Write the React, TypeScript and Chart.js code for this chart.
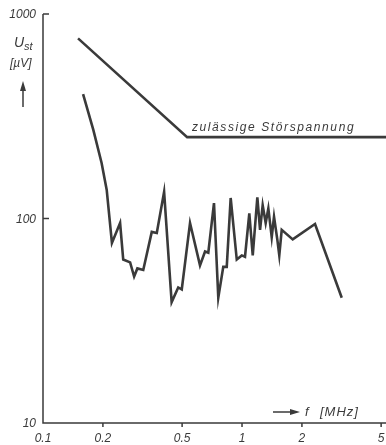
import React, { useEffect, useRef } from "react";
import { Chart, registerables } from "chart.js";

Chart.register(...registerables);

// Permissible interference voltage (zulässige Störspannung)
const permFreq = [0.15, 0.53, 5.3];
const permLimit = [760, 250, 250];

// Measured interference voltage
const measFreq = [
  0.159, 0.179, 0.197, 0.209, 0.222, 0.244, 0.253, 0.274, 0.287, 0.298, 0.319,
  0.352, 0.373, 0.406, 0.443, 0.478, 0.498, 0.548, 0.615, 0.652, 0.677, 0.723,
  0.76, 0.805, 0.838, 0.877, 0.941, 0.997, 1.035, 1.088, 1.132, 1.194, 1.232,
  1.27, 1.315, 1.356, 1.41, 1.448, 1.504, 1.539, 1.583, 1.798, 2.327, 3.17,
];
const measVolt = [
  406, 271, 187, 138, 76, 95, 63, 61, 52, 57, 56, 86, 85, 135, 39, 46, 45, 95,
  59, 69, 68, 119, 41, 58, 58, 126, 63, 66, 65, 106, 66, 127, 88, 116, 95, 112,
  81, 102, 79, 66, 88, 79, 94, 41,
];

const xTicks = [0.1, 0.2, 0.5, 1, 2, 5];
const xTickLabels = ["0.1", "0.2", "0.5", "1", "2", "5"];
const yTicks = [10, 100, 1000];
const yTickLabels = ["10", "100", "1000"];
const limitLabel = "zulässige Störspannung";
const limitLabelFreq = 0.56;

const INK = "#3a3a3a";
const FONT = "'Liberation Sans', 'DejaVu Sans', sans-serif";

const decorPlugin = {
  id: "decor",
  afterDraw(chart: any) {
    const ctx = chart.ctx as CanvasRenderingContext2D;
    const xs = chart.scales.x;
    const ys = chart.scales.y;
    const a = chart.chartArea;
    ctx.save();
    ctx.strokeStyle = INK;
    ctx.fillStyle = INK;
    ctx.lineWidth = 1.5;
    // axes
    ctx.beginPath();
    ctx.moveTo(a.left, a.top);
    ctx.lineTo(a.left, a.bottom);
    ctx.lineTo(a.right, a.bottom);
    ctx.stroke();
    // y ticks
    ctx.font = `italic 12px ${FONT}`;
    ctx.textAlign = "right";
    ctx.textBaseline = "middle";
    yTicks.forEach((v, i) => {
      const y = ys.getPixelForValue(v);
      if (i > 0) {
        ctx.beginPath();
        ctx.moveTo(a.left, y);
        ctx.lineTo(a.left + 6, y);
        ctx.stroke();
      }
      ctx.fillText(yTickLabels[i], a.left - 7, y + 1);
    });
    // x ticks
    ctx.textAlign = "center";
    ctx.textBaseline = "top";
    xTicks.forEach((v, i) => {
      const x = xs.getPixelForValue(v);
      if (i > 0) {
        ctx.beginPath();
        ctx.moveTo(x, a.bottom);
        ctx.lineTo(x, a.bottom + 4);
        ctx.stroke();
      }
      ctx.fillText(xTickLabels[i], x, a.bottom + 10);
    });
    // y title: U_st [µV] ↑
    ctx.textAlign = "left";
    ctx.textBaseline = "alphabetic";
    ctx.font = `italic 14px ${FONT}`;
    ctx.fillText("U", 14, 47);
    ctx.font = `italic 11px ${FONT}`;
    ctx.fillText("st", 24, 50);
    ctx.font = `italic 12px ${FONT}`;
    ctx.fillText("[µV]", 10, 67);
    ctx.lineWidth = 1.5;
    ctx.beginPath();
    ctx.moveTo(23, 107);
    ctx.lineTo(23, 88);
    ctx.stroke();
    ctx.beginPath();
    ctx.moveTo(23, 81);
    ctx.lineTo(20, 91);
    ctx.lineTo(26, 91);
    ctx.closePath();
    ctx.fill();
    // x title: → f [MHz]
    ctx.beginPath();
    ctx.moveTo(273, 412);
    ctx.lineTo(292, 412);
    ctx.stroke();
    ctx.beginPath();
    ctx.moveTo(300, 412);
    ctx.lineTo(290, 409);
    ctx.lineTo(290, 415);
    ctx.closePath();
    ctx.fill();
    ctx.font = `italic 13px ${FONT}`;
    ctx.textBaseline = "middle";
    ctx.fillText("f", 305, 412);
    ctx.font = `italic 13px ${FONT}`;
    (ctx as any).letterSpacing = "1px";
    ctx.fillText("[MHz]", 320, 412);
    // limit label
    ctx.font = `italic 12px ${FONT}`;
    (ctx as any).letterSpacing = "1.6px";
    ctx.textBaseline = "alphabetic";
    ctx.fillText(limitLabel, xs.getPixelForValue(limitLabelFreq), ys.getPixelForValue(permLimit[1]) - 6);
    ctx.restore();
  },
};

export default function App() {
  const ref = useRef<HTMLCanvasElement | null>(null);
  useEffect(() => {
    if (!ref.current) return;
    const chart = new Chart(ref.current, {
      type: "scatter",
      data: {
        datasets: [
          {
            data: permFreq.map((f, i) => ({ x: f, y: permLimit[i] })),
            showLine: true,
            borderColor: INK,
            borderWidth: 2.6,
            pointRadius: 0,
          },
          {
            data: measFreq.map((f, i) => ({ x: f, y: measVolt[i] })),
            showLine: true,
            borderColor: INK,
            borderWidth: 2.6,
            pointRadius: 0,
            borderJoinStyle: "miter",
          },
        ],
      },
      options: {
        animation: false,
        responsive: false,
        maintainAspectRatio: false,
        layout: { padding: { left: 43, top: 14, right: 0, bottom: 22 } },
        plugins: { legend: { display: false }, tooltip: { enabled: false } },
        scales: {
          x: { type: "logarithmic", min: 0.1, max: 5.29, display: false },
          y: { type: "logarithmic", min: 10, max: 1000, display: false },
        },
      },
      plugins: [decorPlugin],
    });
    return () => chart.destroy();
  }, []);
  return (
    <div style={{ position: "fixed", left: 0, top: 0, width: 386, height: 445, background: "#fff" }}>
      <canvas ref={ref} width={386} height={445} style={{ display: "block" }} />
    </div>
  );
}
